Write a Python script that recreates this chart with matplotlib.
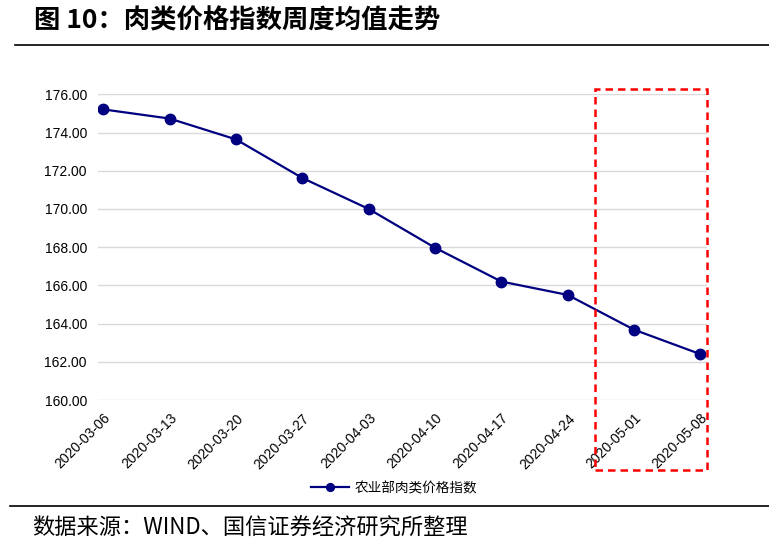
import matplotlib
matplotlib.use("Agg")
import matplotlib.pyplot as plt
from matplotlib.patches import Rectangle
from matplotlib.lines import Line2D

plt.rcParams['font.family'] = ['Liberation Sans', 'Noto Sans CJK SC', 'DejaVu Sans']

dates = ["2020-03-06", "2020-03-13", "2020-03-20", "2020-03-27", "2020-04-03",
         "2020-04-10", "2020-04-17", "2020-04-24", "2020-05-01", "2020-05-08"]
meat_index = [175.21, 174.73, 173.64, 171.62, 170.00, 167.97, 166.20, 165.50, 163.68, 162.40]
series_name = "农业部肉类价格指数"
yticks = [160, 162, 164, 166, 168, 170, 172, 174, 176]

fig = plt.figure(figsize=(7.69, 5.46), dpi=100)
W, H = 769, 546

ax = fig.add_axes([98 / W, 1 - 400 / H, (707 - 98) / W, (400 - 94.3) / H])
x = list(range(len(dates)))
ax.plot(x, meat_index, color="#000080", linewidth=1.6, marker="o",
        markersize=7.5, markerfacecolor="#000080", markeredgecolor="#000080",
        label=series_name, zorder=3)

ax.set_ylim(160, 176)
ax.set_xlim(-0.08, 9.1)
ax.set_yticks(yticks)
ax.set_yticklabels(["{:.2f}".format(v) for v in yticks], fontsize=10)
ax.set_xticks(x)
ax.set_xticklabels(dates, rotation=45, ha="right", rotation_mode="anchor", fontsize=10)
ax.tick_params(axis="both", length=0, pad=8)
ax.tick_params(axis="x", pad=8)
ax.grid(axis="y", color="#d9d9d9", linewidth=1)
ax.set_axisbelow(True)
for s in ax.spines.values():
    s.set_visible(False)

# title and rules
fig.text(34 / W, 1 - 21 / H, "图 10：肉类价格指数周度均值走势", fontsize=19, fontweight="bold",
         family=["Noto Sans CJK SC"], va="center", ha="left")
fig.add_artist(Line2D([15 / W, 1], [1 - 45 / H, 1 - 45 / H], color="black", linewidth=1.2))
fig.add_artist(Line2D([10 / W, 1], [1 - 506 / H, 1 - 506 / H], color="black", linewidth=1.2))
fig.text(32 / W, 1 - 528 / H, "数据来源：WIND、国信证券经济研究所整理", fontsize=16,
         family=["Noto Sans CJK SC"], va="center", ha="left")

# legend
leg = fig.legend(loc="center", bbox_to_anchor=(394 / W, 1 - 488 / H), frameon=False,
                 prop={"family": ["Noto Sans CJK SC"], "size": 9.8},
                 handlelength=2.8, handletextpad=0.4, markerscale=0.75)

# red dashed highlight box
fig.add_artist(Rectangle((595 / W, 1 - 470 / H), (707 - 595) / W, (470 - 89) / H,
                         fill=False, edgecolor="#ff0000", linestyle=(0, (3, 2)),
                         linewidth=1.8, transform=fig.transFigure))

fig.savefig("out.png", dpi=100)
